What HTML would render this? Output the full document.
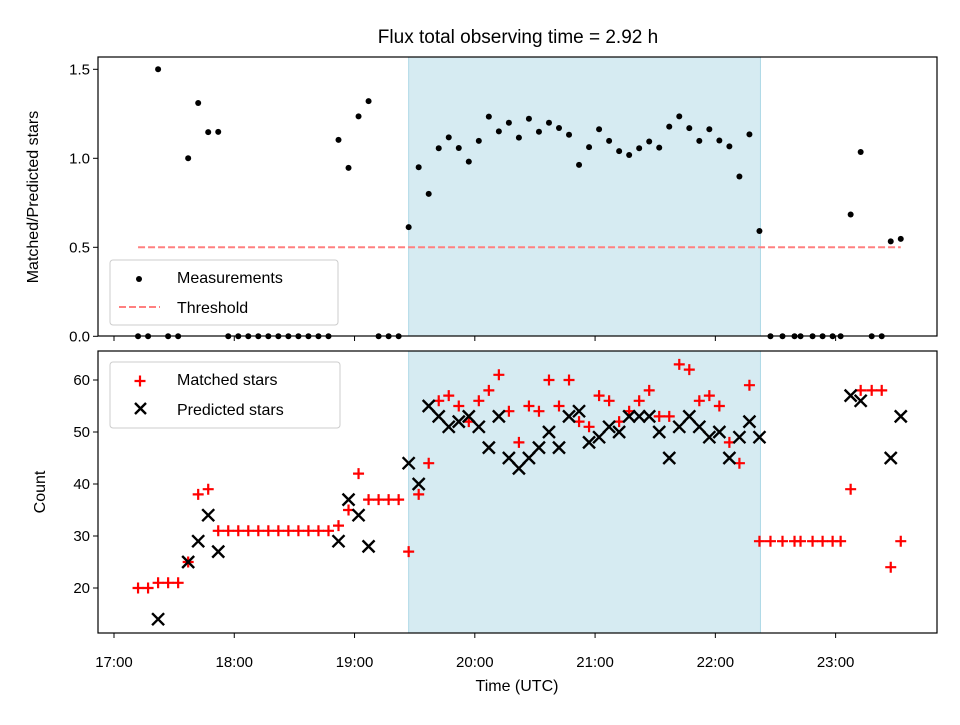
<!DOCTYPE html>
<html><head><meta charset="utf-8"><style>
body{margin:0;background:#fff}
svg text{font-family:"Liberation Sans","DejaVu Sans",sans-serif;fill:#000}
</style></head><body>
<svg id="chart" width="960" height="720" viewBox="0 0 960 720" xmlns="http://www.w3.org/2000/svg">
<rect width="960" height="720" fill="#fff"/>
<text x="518" y="43" font-size="19" text-anchor="middle">Flux total observing time = 2.92 h</text>
<g id="g"></g>
</svg>
<script>
// minutes after 17:00
const times = [12,17,22,27,32,37,42,47,52,57,62,67,72,77,82,87,92,97,102,107,112,117,122,127,132,137,142,147,152,157,162,167,172,177,182,187,192,197,202,207,212,217,222,227,232,237,242,247,252,257,262,267,272,277,282,287,292,297,302,307,312,317,322,327.5,333.5,339.5,342.5,348.5,353.5,358.5,362.5,367.5,372.5,378,383,387.5,392.5];
const matched = [20,20,21,21,21,25,38,39,31,31,31,31,31,31,31,31,31,31,31,31,32,35,42,37,37,37,37,27,38,44,56,57,55,52,56,58,61,54,48,55,54,60,55,60,52,51,57,56,52,54,56,58,53,53,63,62,56,57,55,48,44,59,29,29,29,29,29,29,29,29,29,39,58,58,58,24,29];
const predicted = [null,null,14,null,null,25,29,34,27,null,null,null,null,null,null,null,null,null,null,null,29,37,34,28,null,null,null,44,40,55,53,51,52,53,51,47,53,45,43,45,47,50,47,53,54,48,49,51,50,53,53,53,50,45,51,53,51,49,50,45,49,52,49,null,null,null,null,null,null,null,null,57,56,null,null,45,53];
const threshold = 0.5;
const shadeStart = 147, shadeEnd = 322.5;
const xTickLabels = ["17:00","18:00","19:00","20:00","21:00","22:00","23:00"];
const topYTicks = [0.0,0.5,1.0,1.5];
const botYTicks = [20,30,40,50,60];

const NS="http://www.w3.org/2000/svg";
const g=document.getElementById('g');
function el(tag,attrs,parent){const e=document.createElementNS(NS,tag);for(const k in attrs)e.setAttribute(k,attrs[k]);(parent||g).appendChild(e);return e;}
const L=98,R=937,T1=57,B1=336,T2=351,B2=633;
const X=t=>114+2.0045*t;
const Y1=v=>336.3-178*v;
const Y2=v=>588-5.2*(v-20);

const s1=el('rect',{x:X(shadeStart),y:T1,width:X(shadeEnd)-X(shadeStart),height:B1-T1,fill:'#add8e6','fill-opacity':0.5,stroke:'#add8e6'});


const s2=el('rect',{x:X(shadeStart),y:T2,width:X(shadeEnd)-X(shadeStart),height:B2-T2,fill:'#add8e6','fill-opacity':0.5,stroke:'#add8e6'});



const th=el('line',{x1:X(times[0]),x2:X(times[times.length-1]),y1:Y1(threshold),y2:Y1(threshold),stroke:'#ff8080','stroke-width':2,'stroke-dasharray':'7,3'});



times.forEach((t,i)=>{
  const r=predicted[i]?matched[i]/predicted[i]:0;
  const c=el('circle',{cx:X(t),cy:Y1(r),r:3,fill:'#000'});
  
  
});

function plus(x,y,name){const p=el('path',{d:`M${x-5.5},${y}H${x+5.5}M${x},${y-5.5}V${y+5.5}`,stroke:'#f00','stroke-width':2.2});return p;}
function cross(x,y,name){const p=el('path',{d:`M${x-6},${y-6}L${x+6},${y+6}M${x-6},${y+6}L${x+6},${y-6}`,stroke:'#000','stroke-width':2.4});return p;}
times.forEach((t,i)=>{plus(X(t),Y2(matched[i]),'matched-point');});
times.forEach((t,i)=>{if(predicted[i]!=null)cross(X(t),Y2(predicted[i]),'predicted-point');});

[[T1,B1,'top-axes-frame'],[T2,B2,'bottom-axes-frame']].forEach(([t,b,n])=>{
  const f=el('rect',{x:L,y:t,width:R-L,height:b-t,fill:'none',stroke:'#000','stroke-width':1.2});
  
  
});
xTickLabels.forEach((lab,i)=>{
  const x=X(60*i);
  el('line',{x1:x,x2:x,y1:B1,y2:B1+5,stroke:'#000'});
  el('line',{x1:x,x2:x,y1:B2,y2:B2+5,stroke:'#000'});
  const tx=el('text',{x:x,y:B2+34,'font-size':15,'text-anchor':'middle'});
  tx.textContent=lab;
  
  
});
topYTicks.forEach(v=>{
  const y=Y1(v);
  el('line',{x1:L-5,x2:L,y1:y,y2:y,stroke:'#000'});
  const tx=el('text',{x:L-8,y:y+5,'font-size':15,'text-anchor':'end'});
  tx.textContent=v.toFixed(1);
  
  
});
botYTicks.forEach(v=>{
  const y=Y2(v);
  el('line',{x1:L-5,x2:L,y1:y,y2:y,stroke:'#000'});
  const tx=el('text',{x:L-8,y:y+5,'font-size':15,'text-anchor':'end'});
  tx.textContent=v;
  
  
});
let a=el('text',{x:517,y:691,'font-size':16,'text-anchor':'middle'});a.textContent='Time (UTC)';

a=el('text',{x:0,y:0,'font-size':16,'text-anchor':'middle',transform:'translate(38,197) rotate(-90)'});a.textContent='Matched/Predicted stars';

a=el('text',{x:0,y:0,'font-size':16,'text-anchor':'middle',transform:'translate(45,492) rotate(-90)'});a.textContent='Count';


let lg=el('g',{});
el('rect',{x:110,y:260,width:228,height:65,rx:3,fill:'#fff','fill-opacity':0.8,stroke:'#ccc'},lg);
el('circle',{cx:139,cy:279,r:3,fill:'#000'},lg);
let t=el('text',{x:177,y:283,'font-size':16},lg);t.textContent='Measurements';
el('line',{x1:119,x2:160,y1:307,y2:307,stroke:'#ff8080','stroke-width':2,'stroke-dasharray':'7,3'},lg);
t=el('text',{x:177,y:313,'font-size':16},lg);t.textContent='Threshold';

lg=el('g',{});
el('rect',{x:110,y:362,width:230,height:66,rx:3,fill:'#fff','fill-opacity':0.8,stroke:'#ccc'},lg);
el('path',{d:'M134.5,381H145.5M140,375.5V386.5',stroke:'#f00','stroke-width':2.2},lg);
t=el('text',{x:177,y:385,'font-size':16},lg);t.textContent='Matched stars';
el('path',{d:'M135,403L146,414M135,414L146,403',stroke:'#000','stroke-width':2.4},lg);
t=el('text',{x:177,y:415,'font-size':16},lg);t.textContent='Predicted stars';
</script>
</body></html>
